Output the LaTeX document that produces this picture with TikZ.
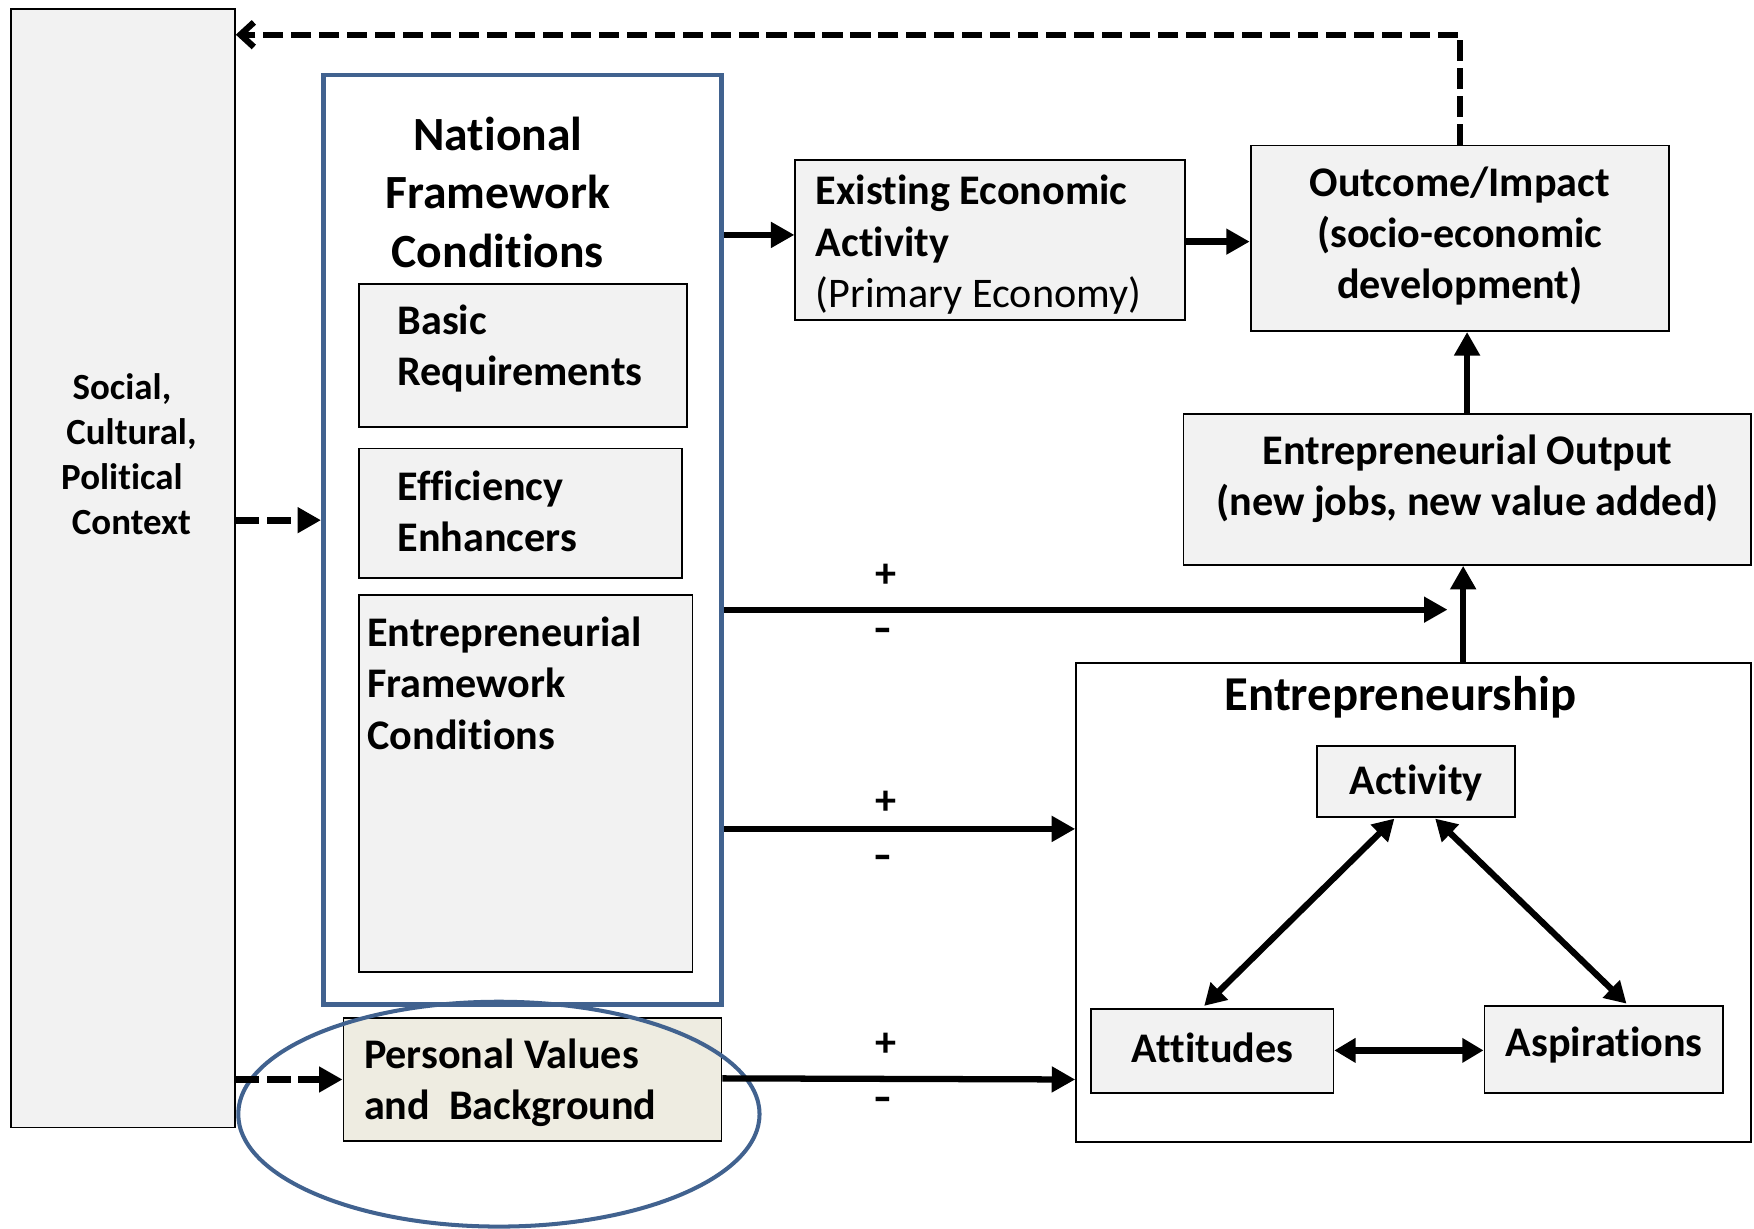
\documentclass[tikz,border=0pt]{standalone}
\usepackage{fontspec}
\setmainfont[Ligatures=NoCommon]{Carlito}
\usetikzlibrary{arrows.meta,shapes.geometric,fit,calc}
\definecolor{gfill}{HTML}{F2F2F2}
\definecolor{nblue}{HTML}{41628F}
\definecolor{beige}{HTML}{EEECE1}
\begin{document}
\begin{tikzpicture}[x=0.5pt,y=-0.5pt,
  gbox/.style={draw=black,fill=gfill,line width=0.8pt,inner sep=0pt},
  wbox/.style={draw=black,fill=white,line width=0.8pt,inner sep=0pt},
  bbox/.style={draw=nblue,fill=white,line width=2pt,inner sep=0pt},
  pbox/.style={draw=black,fill=beige,line width=0.8pt,inner sep=0pt},
  txt/.style={inner sep=0pt,font=\fontsize{18.85}{23}\selectfont\bfseries,align=left},
  ctxt/.style={inner sep=0pt,font=\fontsize{18.85}{23}\selectfont\bfseries,align=center},
  sign/.style={inner sep=0pt,font=\fontsize{18.85}{23}\selectfont\bfseries},
  arr/.style={line width=2.8pt,-{Triangle[length=10.5pt,width=11pt]}},
  darr/.style={line width=3pt,dash pattern=on 10.5pt off 3.5pt,-{Triangle[length=10.5pt,width=11pt]}},
  dbl/.style={line width=2.8pt,{Triangle[length=9.5pt,width=10.5pt]}-{Triangle[length=9.5pt,width=10.5pt]}},
  fb/.style={line width=2.8pt,dash pattern=on 9pt off 3.5pt,-{Straight Barb[length=6pt,width=11pt]}}
]
\useasboundingbox (0,0) rectangle (1568,1098);

% boxes
\node (left) [gbox,fit={(10,8) (210,1008)}] {};
\node (nfc) [bbox,fit={(289,67) (645,898)}] {};
\node (basic) [gbox,fit={(321,254) (614,382)}] {};
\node (eff) [gbox,fit={(321,401) (610,517)}] {};
\node (efc) [gbox,fit={(321,532) (619,869)}] {};
\node (exist) [gbox,fit={(711,143) (1059,286)}] {};
\node (outcome) [gbox,fit={(1118,130) (1492,296)}] {};
\node (eo) [gbox,fit={(1058,370) (1565,505)}] {};
\node (ent) [wbox,fit={(962,593) (1565,1021)}] {};
\node (activity) [gbox,fit={(1177,667) (1354,730)}] {};
\node (attitudes) [gbox,fit={(975,902) (1192,977)}] {};
\node (aspirations) [gbox,fit={(1327,899) (1540,977)}] {};
\node (personal) [pbox,fit={(307,910) (645,1020)}] {};

% texts
\node (tleft) [inner sep=0pt,font=\fontsize{16.5}{20}\selectfont\bfseries,align=center] at (109,406)
  {Social,\\\hspace*{8.5pt}Cultural,\\Political\\\hspace*{8.5pt}Context};
\node (tnfc) [inner sep=0pt,font=\fontsize{21.3}{26}\selectfont\bfseries,align=center] at (445,172)
  {National\\Framework\\Conditions};
\node (tbasic) [txt,anchor=west] at (355,311.5) {Basic\\Requirements};
\node (teff) [txt,anchor=west] at (355,457) {Efficiency\\Enhancers};
\node (tefc) [txt,anchor=west] at (328,610.5) {Entrepreneurial\\Framework\\Conditions};
\node (texist) [txt,anchor=west] at (729,219) {Existing Economic\\Activity\\{\mdseries (Primary Economy)}};
\node (tout) [ctxt] at (1305,211) {Outcome/Impact\\(socio-economic\\development)};
\node (teo) [ctxt] at (1312,428) {Entrepreneurial Output\\(new jobs, new value added)};
\node (tent) [inner sep=0pt,font=\fontsize{21.75}{26}\selectfont\bfseries] at (1252,623) {Entrepreneurship};
\node (tact) [sign] at (1266,700) {Activity};
\node (tatt) [sign] at (1084,937) {Attitudes};
\node (tasp) [sign] at (1434,934) {Aspirations};
\node (tpers) [txt,anchor=west] at (325,968) {Personal Values\\and\ \ Background};

% signs
\node (p1) [sign] at (792,515) {+};
\node (m1) [sign] at (789,568) {\scalebox{1.3}[1]{-}};
\node (p2) [sign] at (792,718) {+};
\node (m2) [sign] at (789,771) {\scalebox{1.3}[1]{-}};
\node (p3) [sign] at (792,934) {+};
\node (m3) [sign] at (789,987) {\scalebox{1.3}[1]{-}};

% ellipse
\node (ell) [draw=nblue,line width=1.8pt,ellipse,minimum width=233pt,minimum height=100.5pt,inner sep=0pt] at (446,996) {};

% helper coordinates
\coordinate (y31) at (0,31);
\coordinate (y465) at (0,465);
\coordinate (y741) at (0,741);
\coordinate (tip) at (1294,545);

% connectors
\draw[fb] (outcome.north) -- (outcome.north |- y31) -- (left.east |- y31);
\draw[darr] (left.east |- y465) -- (nfc.west |- y465);
\draw[darr] (left.east |- personal.west) -- (personal.west);
\draw[arr] (nfc.east |- 0,210) -- (exist.west |- 0,210);
\draw[arr] (exist.east |- 0,216) -- (outcome.west |- 0,216);
\draw[arr] (eo.north) -- (outcome.south -| eo.north);
\draw[arr] (ent.north -| 1308,0) -- (eo.south -| 1308,0);
\draw[arr] (nfc.east |- tip) -- (tip);
\draw[arr] (nfc.east |- y741) -- (ent.west |- y741);
\draw[arr] (personal.east |- 0,964) -- (ent.west |- 0,965);
\draw[dbl] ($(activity.south)+(-19,1)$) -- ($(attitudes.north)+(-7,-2)$);
\draw[dbl] ($(activity.south)+(17.5,1)$) -- ($(aspirations.north)+(20.5,-1)$);
\draw[dbl] (attitudes.east |- 0,939) -- (aspirations.west |- 0,939);
\end{tikzpicture}
\end{document}
